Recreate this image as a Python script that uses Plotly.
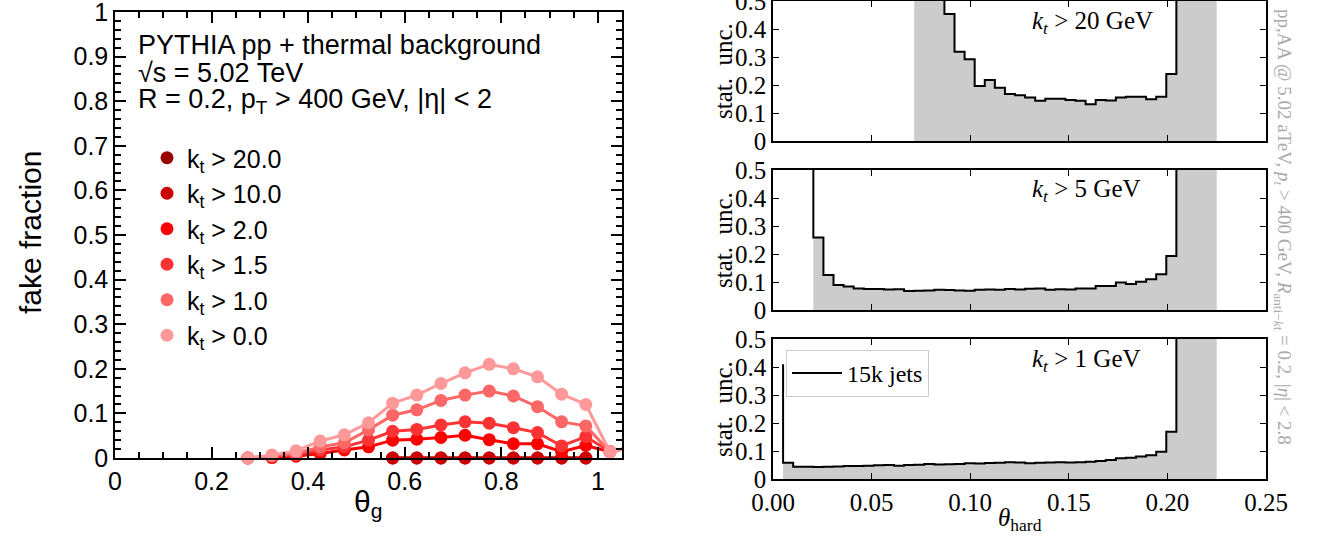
import numpy as np
import plotly.graph_objects as go

# ---------------- Left panel: fake fraction vs theta_g ----------------
theta_g = [0.275, 0.325, 0.375, 0.425, 0.475, 0.525, 0.575, 0.625, 0.675,
           0.725, 0.775, 0.825, 0.875, 0.925, 0.975, 1.025, 1.075]
theta_g_hi = [0.575, 0.625, 0.675, 0.725, 0.775, 0.825, 0.875, 0.925, 0.975]

fake_kt20 = [0.0, 0.0, 0.0, 0.0, 0.0, 0.0, 0.0, 0.0, 0.0]
fake_kt10 = [0.0, 0.0, 0.0, 0.0, 0.0, 0.0, 0.0, 0.0, 0.0]
fake_kt2p0 = [0.000, 0.001, 0.004, 0.010, 0.018, 0.025, 0.040, 0.042, 0.046,
              0.051, 0.041, 0.032, 0.032, 0.014, 0.028, 0.014, 0.025]
fake_kt1p5 = [0.000, 0.003, 0.007, 0.018, 0.025, 0.040, 0.060, 0.064, 0.074,
              0.081, 0.078, 0.068, 0.057, 0.027, 0.048, 0.014, 0.025]
fake_kt1p0 = [0.000, 0.005, 0.010, 0.025, 0.034, 0.063, 0.096, 0.108, 0.129,
              0.141, 0.150, 0.139, 0.115, 0.081, 0.072, 0.014, 0.025]
fake_kt0p0 = [0.000, 0.007, 0.016, 0.038, 0.052, 0.079, 0.123, 0.141, 0.167,
              0.191, 0.210, 0.200, 0.182, 0.143, 0.120, 0.014, 0.025]

kt_labels = ["k<sub>t</sub> > 20.0", "k<sub>t</sub> > 10.0", "k<sub>t</sub> > 2.0",
             "k<sub>t</sub> > 1.5", "k<sub>t</sub> > 1.0", "k<sub>t</sub> > 0.0"]
kt_colors = ["#990000", "#cc0000", "#ff0000", "#ff3333", "#ff6666", "#ff9999"]
left_yticks = [0.0, 0.1, 0.2, 0.3, 0.4, 0.5, 0.6, 0.7, 0.8, 0.9, 1.0]
left_xticks = [0.0, 0.2, 0.4, 0.6, 0.8, 1.0]

# ---------------- Right panels: stat. unc. vs theta_hard ----------------
hard_edges = np.linspace(0.0, 0.225, 45)   # histogram bin edges

unc_kt20_start = 14
unc_kt20 = [1.0, 1.0, 1.0, 1.0, 0.454, 0.319, 0.292, 0.196, 0.218, 0.190, 0.168,
            0.163, 0.155, 0.144, 0.151, 0.151, 0.146, 0.144, 0.131, 0.146, 0.145,
            0.155, 0.158, 0.158, 0.149, 0.158, 0.239, 1.0, 1.0, 1.0, 1.0]
unc_kt5_start = 4
unc_kt5 = [1.0, 0.259, 0.125, 0.089, 0.084, 0.077, 0.075, 0.075, 0.073, 0.074,
           0.068, 0.069, 0.070, 0.072, 0.071, 0.070, 0.069, 0.072, 0.073, 0.072,
           0.075, 0.073, 0.076, 0.077, 0.072, 0.074, 0.073, 0.077, 0.077, 0.086,
           0.086, 0.098, 0.093, 0.101, 0.110, 0.128, 0.193, 1.0, 1.0, 1.0, 1.0]
unc_kt1_start = 1
unc_kt1 = [0.41, 0.058, 0.044, 0.044, 0.043, 0.044, 0.045, 0.046, 0.046, 0.047,
           0.049, 0.050, 0.047, 0.050, 0.051, 0.054, 0.052, 0.053, 0.054, 0.056,
           0.055, 0.057, 0.058, 0.060, 0.059, 0.056, 0.058, 0.059, 0.060, 0.059,
           0.060, 0.062, 0.064, 0.068, 0.074, 0.076, 0.080, 0.085, 0.097, 0.169,
           1.0, 1.0, 1.0, 1.0]
panel_labels = ["<i>k<sub>t</sub></i> > 20 GeV", "<i>k<sub>t</sub></i> > 5 GeV",
                "<i>k<sub>t</sub></i> > 1 GeV"]
legend_label = "15k jets"
right_yticks = [0.0, 0.1, 0.2, 0.3, 0.4, 0.5]
right_xticks = [0.0, 0.05, 0.10, 0.15, 0.20, 0.25]

W, H = 1325, 540
SANS = "Liberation Sans"
SERIF = "Liberation Serif"


def px(x):
    return x / W


def py(y):
    return 1 - y / H


fig = go.Figure()

left_series = [
    (theta_g_hi, fake_kt20), (theta_g_hi, fake_kt10), (theta_g, fake_kt2p0),
    (theta_g, fake_kt1p5), (theta_g, fake_kt1p0), (theta_g, fake_kt0p0)]
xmax_left = 1.05
for (xs, ys), col, lab in zip(left_series, kt_colors, kt_labels):
    fig.add_trace(go.Scatter(x=xs, y=ys, mode="lines", line=dict(color=col, width=3),
                             xaxis="x", yaxis="y", showlegend=False, hoverinfo="skip"))
    mx = [a for a in xs if a <= xmax_left]
    my = [b for a, b in zip(xs, ys) if a <= xmax_left]
    fig.add_trace(go.Scatter(x=mx, y=my, mode="markers",
                             marker=dict(color=col, size=13), cliponaxis=False,
                             xaxis="x", yaxis="y", showlegend=False))
for col, lab in zip(kt_colors, kt_labels):
    fig.add_trace(go.Scatter(x=[None], y=[None], mode="markers",
                             marker=dict(color=col, size=13), name=lab,
                             legend="legend2", xaxis="x", yaxis="y"))

right_sets = [(unc_kt20_start, unc_kt20, "x2", "y2"),
              (unc_kt5_start, unc_kt5, "x3", "y3"),
              (unc_kt1_start, unc_kt1, "x4", "y4")]
for start, vals, xa, ya in right_sets:
    xs = list(hard_edges[start:start + len(vals)])
    fig.add_trace(go.Scatter(x=xs, y=vals, mode="lines", line_shape="vh",
                             line=dict(color="black", width=2), fill="tozeroy",
                             fillcolor="#cccccc", xaxis=xa, yaxis=ya,
                             showlegend=False, hoverinfo="skip"))
fig.add_trace(go.Scatter(x=[None], y=[None], mode="lines",
                         line=dict(color="black", width=2), name=legend_label,
                         legend="legend", xaxis="x4", yaxis="y4"))

left_ax = dict(showline=True, linecolor="black", linewidth=1.5, mirror="allticks",
               ticks="inside", tickcolor="black", tickwidth=1.5, ticklen=11,
               showgrid=False, zeroline=False, automargin=False,
               ticklabeloverflow="allow",
               tickfont=dict(family=SANS, size=25, color="black"))
fig.update_layout(
    xaxis=dict(left_ax, domain=[px(115), px(622)], range=[0, 1.05],
               tickvals=left_xticks, ticktext=[f"{v:g}" for v in left_xticks],
               minor=dict(dtick=0.05, tick0=0, ticks="inside", ticklen=6,
                          tickcolor="black", tickwidth=1.5), anchor="y"),
    yaxis=dict(left_ax, domain=[py(458), py(12)], range=[0, 1],
               tickvals=left_yticks, ticktext=[f"{v:g}" for v in left_yticks],
               minor=dict(dtick=0.02, tick0=0, ticks="inside", ticklen=6,
                          tickcolor="black", tickwidth=1.5), anchor="x"),
)

right_x = dict(showline=True, linecolor="black", linewidth=1.5, mirror="allticks",
               ticks="inside", tickcolor="black", tickwidth=1.2, ticklen=6,
               showgrid=False, zeroline=False, range=[0, 0.25],
               tickvals=right_xticks, ticktext=[f"{v:.2f}" for v in right_xticks],
               domain=[px(773), px(1266)], automargin=False,
               ticklabeloverflow="allow",
               tickfont=dict(family=SERIF, size=25, color="black"))
right_y = dict(showline=True, linecolor="black", linewidth=1.5, mirror="allticks",
               ticks="inside", tickcolor="black", tickwidth=1.2, ticklen=6,
               showgrid=False, zeroline=False, range=[0, 0.5],
               tickvals=right_yticks, ticktext=[f"{v:g}" for v in right_yticks],
               automargin=False, ticklabeloverflow="allow",
               tickfont=dict(family=SERIF, size=25, color="black"))
panels = [(1, 141), (170, 310), (339, 479)]
for i, (top, bot) in enumerate(panels):
    n = i + 2
    fig.layout[f"xaxis{n}"] = dict(right_x, anchor=f"y{n}", showticklabels=(n == 4),
                                   **({} if n == 4 else {"matches": "x4"}))
    fig.layout[f"yaxis{n}"] = dict(right_y, anchor=f"x{n}", domain=[py(bot), py(top)])

ann = []
# left text
for txt, y in [("PYTHIA pp + thermal background", 45),
               ("√s = 5.02 TeV", 73),
               ("R = 0.2, p<sub>T</sub> > 400 GeV, |η| < 2", 101)]:
    ann.append(dict(text=txt, x=px(136), y=py(y), xref="paper", yref="paper",
                    xanchor="left", yanchor="middle", showarrow=False,
                    font=dict(family=SANS, size=27, color="black")))
ann.append(dict(text="fake fraction", x=px(30), y=py(233), xref="paper", yref="paper",
                textangle=-90, showarrow=False, xanchor="center", yanchor="middle",
                font=dict(family=SANS, size=30, color="black")))
ann.append(dict(text="θ<sub>g</sub>", x=px(368), y=py(503), xref="paper", yref="paper",
                showarrow=False, xanchor="center", yanchor="middle",
                font=dict(family=SANS, size=30, color="black")))
# right texts
for (top, bot), lab in zip(panels, panel_labels):
    ann.append(dict(text=lab, x=px(1030), y=py(top + 21), xref="paper", yref="paper",
                    xanchor="left", yanchor="middle", showarrow=False,
                    font=dict(family=SERIF, size=25, color="black")))
    ann.append(dict(text="stat.  unc.", x=px(723), y=py((top + bot) / 2), xref="paper",
                    yref="paper", textangle=-90, showarrow=False,
                    xanchor="center", yanchor="middle",
                    font=dict(family=SERIF, size=25, color="black")))
ann.append(dict(text="<i>θ</i><sub>hard</sub>", x=px(1020), y=py(519), xref="paper",
                yref="paper", showarrow=False, xanchor="center", yanchor="middle",
                font=dict(family=SERIF, size=25, color="black")))
ann.append(dict(text="pp,AA @ 5.02 aTeV, <i>p<sub>t</sub></i> > 400 GeV, "
                     "<i>R</i><sub>anti−<i>k</i>t</sub> = 0.2, |<i>η</i>| < 2.8",
                x=px(1283), y=py(227), xref="paper", yref="paper", textangle=90,
                showarrow=False, xanchor="center", yanchor="middle",
                font=dict(family=SERIF, size=19, color="#aaaaaa")))

fig.update_layout(
    width=W, height=H, margin=dict(l=0, r=0, t=0, b=0, autoexpand=False),
    paper_bgcolor="white", plot_bgcolor="white", showlegend=True,
    annotations=ann,
    legend=dict(x=px(786), y=py(350), xanchor="left", yanchor="top",
                bgcolor="white", bordercolor="#cccccc", borderwidth=1,
                itemwidth=50,
                font=dict(family=SERIF, size=24, color="black")),
    legend2=dict(x=px(147), y=py(135), xanchor="left", yanchor="top",
                 bgcolor="rgba(0,0,0,0)", borderwidth=0,
                 font=dict(family=SANS, size=25, color="black")),
)

fig.write_html("out.html", config={"displayModeBar": False},
               post_script="document.body.style.margin='0px';"
                           "document.body.style.overflow='hidden';")
